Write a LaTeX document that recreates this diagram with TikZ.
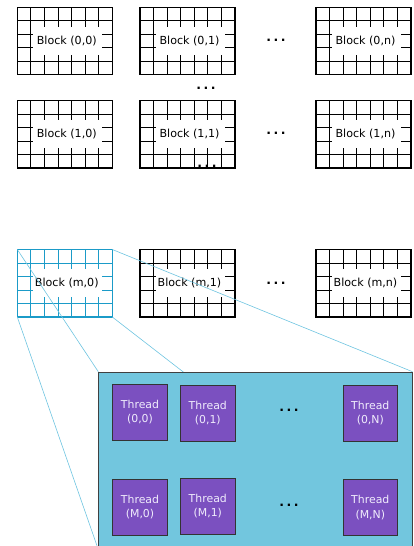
\documentclass[tikz,border=0pt]{standalone}
\usepackage{fontspec}
\setmainfont{DejaVu Sans}
\definecolor{blockblue}{RGB}{27,155,200}
\definecolor{zoomblue}{RGB}{110,196,224}
\definecolor{panelblue}{RGB}{114,198,222}
\definecolor{threadpurple}{RGB}{123,80,192}
\definecolor{threadtext}{RGB}{240,236,252}
\pgfdeclarelayer{blocks}
\pgfdeclarelayer{links}
\pgfsetlayers{blocks,links,main}
\tikzset{
  gridinner/.style={line width=0.9pt},
  gridframe/.style={line width=1.4pt},
  blocklabel/.style={text=black, inner sep=0pt, font=\fontsize{11.1}{12}\selectfont},
  dots/.style={inner sep=0pt, text=black, font=\fontsize{12.5}{12}\bfseries},
  zoomline/.style={draw=zoomblue, line width=0.6pt},
  panel/.style={draw=black!75, line width=0.8pt, fill=panelblue, inner sep=0pt,
    minimum width=313.4pt, minimum height=177pt},
  thread/.style={draw=black!80, line width=0.8pt, fill=threadpurple, text=threadtext,
    align=center, inner sep=0pt, minimum width=54.5pt, minimum height=55.7pt,
    font=\fontsize{10.9}{14.3}\selectfont},
  % a 7 x 5 cell block with a cleared label area, anchored at its top-left corner
  gridblock/.pic={
    \foreach \i in {1,...,6}
      \draw[gridinner] (\i*95/7,0) -- (\i*95/7,67.5);
    \foreach \j in {1,...,4}
      \draw[gridinner] (0,\j*13.5) -- (95,\j*13.5);
    \fill[white] (16,19.5) rectangle (84.5,47.5);
    \node[blocklabel] (-label) at (49.5,33.6) {\tikzpictext};
    \draw[gridframe] (0,0) rectangle (95,67.5);
    \coordinate (-nw) at (0,0);
    \coordinate (-ne) at (95,0);
    \coordinate (-sw) at (0,67.5);
    \coordinate (-se) at (95,67.5);
  }
}
\begin{document}
\begin{tikzpicture}[x=1pt,y=-1pt]
\useasboundingbox (0,0) rectangle (413,546);

\begin{pgfonlayer}{blocks}
  \pic[pic text={Block (0,0)}] (b00) at (17.3,7.2) {gridblock};
  \pic[pic text={Block (0,1)}] (b01) at (140,7.2) {gridblock};
  \pic[pic text={Block (0,n)}] (b0n) at (316,7.2) {gridblock};
  \pic[pic text={Block (1,0)}] (b10) at (17.3,100.5) {gridblock};
  \pic[pic text={Block (1,1)}] (b11) at (140,100.5) {gridblock};
  \pic[pic text={Block (1,n)}] (b1n) at (316,100.5) {gridblock};
  \pic[pic text={Block (m,0)}, color=blockblue] (bm0) at (17.3,249.5) {gridblock};
  \pic[pic text={Block (m,1)}] (bm1) at (140,249.5) {gridblock};
  \pic[pic text={Block (m,n)}] (bmn) at (316,249.5) {gridblock};
\end{pgfonlayer}

% ellipses between the blocks
\node[dots] (d0) at (276,40.5) {.\kern2.4pt.\kern2.4pt.};
\node[dots] (d1) at (276,133.5) {.\kern2.4pt.\kern2.4pt.};
\node[dots] (dm) at (276,283) {.\kern2.4pt.\kern2.4pt.};
\node[dots] (dv1) at (206,88) {.\kern2.4pt.\kern2.4pt.};
\node[dots] (dv2) at (207,166.5) {.\kern2.4pt.\kern2.4pt.};

% enlarged view of block (m,0)
\node[panel, anchor=north west] (panel) at (98.3,371.7) {};

\begin{pgfonlayer}{links}
  \draw[zoomline] (bm0-nw) -- (panel.north west);
  \draw[zoomline] (bm0-ne) -- (panel.north east);
  \draw[zoomline] (bm0-sw) -- (panel.south west);
  \draw[zoomline] (bm0-se) -- (panel.south east);
\end{pgfonlayer}

\node[thread] (t00) at (140,412.2) {Thread\\(0,0)};
\node[thread] (t01) at (207.8,413.3) {Thread\\(0,1)};
\node[thread] (t0N) at (370.3,413.3) {Thread\\(0,N)};
\node[thread] (tM0) at (140,507.2) {Thread\\(M,0)};
\node[thread] (tM1) at (207.8,506.3) {Thread\\(M,1)};
\node[thread] (tMN) at (370.3,507.5) {Thread\\(M,N)};

\node[dots] (dt0) at (289,410.5) {.\kern2.4pt.\kern2.4pt.};
\node[dots] (dtM) at (289,505.5) {.\kern2.4pt.\kern2.4pt.};
\end{tikzpicture}
\end{document}
